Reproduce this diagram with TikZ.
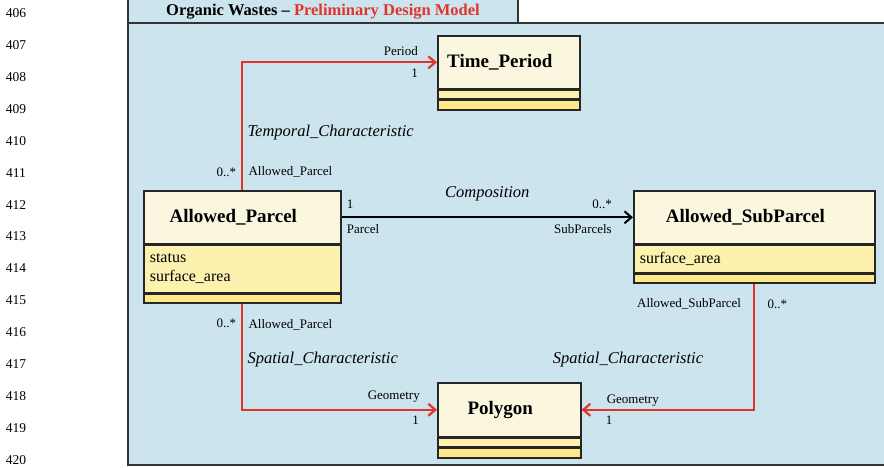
\documentclass[tikz,border=0pt]{standalone}
\usepackage{fontspec}
\setmainfont{Liberation Serif}
\usetikzlibrary{positioning,arrows.meta}
\definecolor{panelblue}{HTML}{CCE4EE}
\definecolor{namefill}{HTML}{FAF7DE}
\definecolor{attrfill}{HTML}{FDF1B0}
\definecolor{opfill}{HTML}{FEE98A}
\definecolor{assocred}{HTML}{E0352B}
\tikzset{>={Straight Barb[length=7pt,width=12pt]}}
\tikzset{
  umlname/.style={draw=black!85, line width=1.6pt, fill=namefill, inner sep=0pt,
    anchor=north west, font=\fontsize{19}{22}\selectfont\bfseries,
    execute at end node=\hspace*{18pt}},
  umlattr/.style={draw=black!85, line width=1.6pt, fill=attrfill, inner sep=0pt,
    anchor=north, font=\fontsize{16}{19}\selectfont},
  umlops/.style={draw=black!85, line width=1.6pt, fill=opfill, inner sep=0pt, anchor=north},
  role/.style={font=\fontsize{13}{15}\selectfont, inner sep=1pt},
  assoc/.style={font=\fontsize{16.5}{19}\selectfont\itshape, inner sep=1pt},
  linenum/.style={font=\fontsize{13.5}{15}\selectfont, inner sep=0pt},
  redlink/.style={draw=assocred, line width=2.2pt, ->},
  blacklink/.style={draw=black, line width=2pt, ->}
}

\begin{document}
\begin{tikzpicture}[x=1pt,y=-1pt]
    \useasboundingbox (0,0) rectangle (884,468);
    % page line numbers
    \foreach \n [count=\i from 0] in {406,...,420}
        \node[linenum] (ln\n) at (16,13+\i*31.93) {\n};
    % model frame
    \fill[panelblue] (128,0) rectangle (518,23);
    \fill[panelblue] (128,23) rectangle (884,465);
    \draw[black!80, line width=2pt] (128,0) -- (128,465) -- (884,465);
    \draw[black!80, line width=2pt] (128,23) -- (884,23);
    \draw[black!80, line width=1.5pt] (518,0) -- (518,23);
    \node[inner sep=0pt, font=\fontsize{16.5}{19}\selectfont\bfseries] (title) at (323,12)
        {Organic Wastes -- \textcolor{assocred}{Preliminary Design Model}};

    % classes
    \node[umlname, minimum width=142pt, minimum height=53pt] (tpname) at (437,35) {Time\_Period};
    \node[umlattr, minimum width=142pt, minimum height=8pt] (tpattr) at (tpname.south) {};
    \node[umlops, minimum width=142pt, minimum height=10pt] (tpops) at (tpattr.south) {};

    \node[umlname, minimum width=197pt, minimum height=53pt] (apname) at (143,190) {Allowed\_Parcel};
    \node[umlattr, minimum width=197pt, minimum height=47pt, text width=185pt, align=left] (apattr)
        at (apname.south) {status\\surface\_area};
    \node[umlops, minimum width=197pt, minimum height=9pt] (apops) at (apattr.south) {};

    \node[umlname, minimum width=241pt, minimum height=53pt] (spname) at (633,190) {Allowed\_SubParcel};
    \node[umlattr, minimum width=241pt, minimum height=27pt, text width=229pt, align=left] (spattr)
        at (spname.south) {surface\_area};
    \node[umlops, minimum width=241pt, minimum height=9pt] (spops) at (spattr.south) {};

    \node[umlname, minimum width=143pt, minimum height=54pt] (pgname) at (437,382) {Polygon};
    \node[umlattr, minimum width=143pt, minimum height=8pt] (pgattr) at (pgname.south) {};
    \node[umlops, minimum width=143pt, minimum height=10pt] (pgops) at (pgattr.south) {};

    % associations
    \draw[redlink] (apname.north) |- (tpname.west);
    \draw[blacklink] (apname.east) -- node[assoc, above=14pt] (compo) {Composition} (spname.west);
    \draw[redlink] (apops.south) |- (pgname.west);
    \draw[redlink] (spops.south) |- (pgname.east);

    % role names and multiplicities
    \node[role, above left=12pt and 5pt of apname.north] (m1) {0..*};
    \node[role, above right=12pt and 5pt of apname.north] (r1) {Allowed\_Parcel};
    \node[assoc, anchor=west] (temporal) at ([xshift=4pt,yshift=57pt]apname.north) {Temporal\_Characteristic};
    \node[role, above left=5pt and 18pt of tpname.west] (r2) {Period};
    \node[role, below left=5pt and 18pt of tpname.west] (m2) {1};

    \node[role, above right=8pt and 4pt of apname.east] (m3) {1};
    \node[role, below right=6pt and 4pt of apname.east] (r3) {Parcel};
    \node[role, above left=7pt and 20pt of spname.west] (m4) {0..*};
    \node[role, below left=6pt and 20pt of spname.west] (r4) {SubParcels};

    \node[role, below left=14pt and 5pt of apops.south] (m5) {0..*};
    \node[role, below right=14pt and 5pt of apops.south] (r5) {Allowed\_Parcel};
    \node[assoc, anchor=west] (spatial1) at ([xshift=4pt,yshift=-56pt]apops.south) {Spatial\_Characteristic};
    \node[role, above left=6pt and 16pt of pgname.west] (r6) {Geometry};
    \node[role, below left=5pt and 17pt of pgname.west] (m6) {1};

    \node[role, anchor=east] (r7) at ([xshift=-12pt,yshift=-20pt]spops.south) {Allowed\_SubParcel};
    \node[role, anchor=west] (m7) at ([xshift=12pt,yshift=-20pt]spops.south) {0..*};
    \node[assoc, anchor=east] (spatial2) at ([xshift=-50pt,yshift=-76pt]spops.south) {Spatial\_Characteristic};
    \node[role, above right=2pt and 24pt of pgname.east] (r8) {Geometry};
    \node[role, below right=5pt and 23pt of pgname.east] (m8) {1};
\end{tikzpicture}
\end{document}
